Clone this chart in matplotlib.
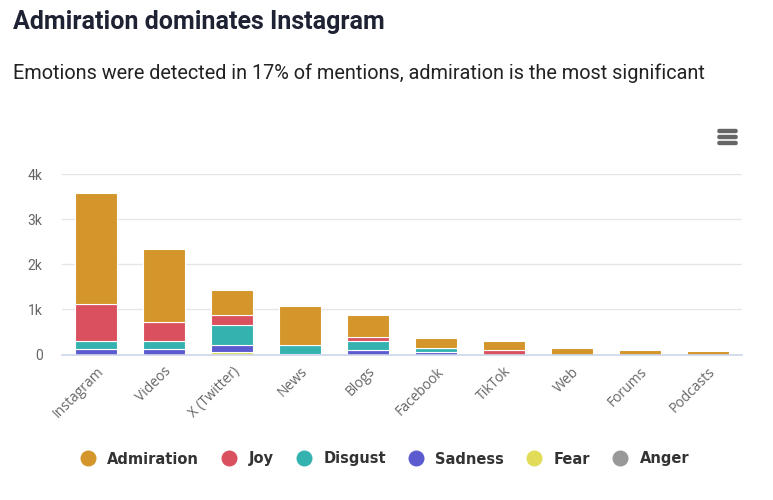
import matplotlib
matplotlib.use("Agg")
import matplotlib.pyplot as plt
from matplotlib.patches import FancyBboxPatch
from matplotlib.lines import Line2D
import numpy as np

categories = ["Instagram", "Videos", "X (Twitter)", "News", "Blogs", "Facebook",
              "TikTok", "Web", "Forums", "Podcasts"]
series_names = ["Admiration", "Joy", "Disgust", "Sadness", "Fear", "Anger"]
colors = ["#d4952a", "#db505f", "#34b2b0", "#5b5bcf", "#e1dc58", "#999999"]

admiration = [2460, 1610, 560, 870, 480, 230, 180, 150, 100, 70]
joy        = [820, 440, 220, 0, 100, 0, 110, 0, 0, 0]
disgust    = [180, 160, 430, 190, 190, 90, 0, 0, 0, 0]
sadness    = [120, 130, 170, 20, 100, 50, 0, 0, 0, 0]
fear       = [0, 0, 50, 0, 0, 0, 0, 0, 0, 0]
anger      = [0, 0, 0, 0, 0, 0, 0, 0, 0, 0]

ytick_vals = [0, 1000, 2000, 3000, 4000]
ytick_labels = ["0", "1k", "2k", "3k", "4k"]

W, H = 773, 500
fig = plt.figure(figsize=(W / 100, H / 100), dpi=100)
fig.patch.set_facecolor("white")

ax = fig.add_axes([62 / W, 1 - 354.5 / H, 680 / W, (354.5 - 174) / H])

x = np.arange(len(categories))
# stack order from bottom: Anger, Fear, Sadness, Disgust, Joy, Admiration
stack = [("Anger", anger), ("Fear", fear), ("Sadness", sadness),
         ("Disgust", disgust), ("Joy", joy), ("Admiration", admiration)]
bottom = np.zeros(len(categories))
for name, vals in stack:
    c = colors[series_names.index(name)]
    v = np.array(vals, dtype=float)
    ax.bar(x, v, bottom=bottom, width=0.62, color=c, edgecolor="white",
           linewidth=0.8, zorder=3)
    bottom += v

ax.set_xlim(-0.5, len(categories) - 0.5)
ax.set_ylim(0, 4000)
ax.set_yticks(ytick_vals)
ax.set_yticklabels(ytick_labels)
ax.grid(axis="y", color="#e6e6e6", linewidth=1, zorder=0)
for s in ["top", "right", "left"]:
    ax.spines[s].set_visible(False)
ax.spines["bottom"].set_color("#ccd6eb")
ax.spines["bottom"].set_linewidth(1.2)
ax.spines["bottom"].set_zorder(4)
ax.tick_params(axis="y", length=0, pad=14, labelsize=10, labelcolor="#666666")
ax.tick_params(axis="x", length=0, pad=7, labelsize=10, labelcolor="#666666")
ax.set_xticks(x)
ax.set_xticklabels(categories, rotation=45, ha="right", va="top",
                   rotation_mode="anchor")
for lbl in ax.get_xticklabels():
    lbl.set_fontfamily("Open Sans")
for lbl in ax.get_yticklabels():
    lbl.set_fontfamily("Roboto")

fig.text(13 / W, 1 - 22 / H, "Admiration dominates Instagram", fontsize=18,
         fontweight="bold", color="#1f2233", family="Roboto", va="center")
fig.text(13 / W, 1 - 73 / H,
         "Emotions were detected in 17% of mentions, admiration is the most significant",
         fontsize=14.3, color="#222222", family="Roboto", va="center")

# menu icon
for yy in [131, 137, 143]:
    fig.add_artist(FancyBboxPatch((718 / W, 1 - (yy + 1.5) / H), 19 / W, 3 / H,
                                  boxstyle="round,pad=0,rounding_size=0.002",
                                  transform=fig.transFigure, color="#666666"))

handles = [Line2D([0], [0], marker="o", linestyle="", markersize=10.5,
                  markerfacecolor=c, markeredgecolor=c) for c in colors]
leg = fig.legend(handles, series_names, loc="center", bbox_to_anchor=(0.497, 1 - 459 / H),
                 ncol=6, frameon=False, handletextpad=0.75, columnspacing=1.45,
                 handlelength=1.2,
                 prop={"family": "DejaVu Sans", "weight": "bold", "size": 10.5})
for t in leg.get_texts():
    t.set_color("#333333")

fig.savefig("out.png", dpi=100)
